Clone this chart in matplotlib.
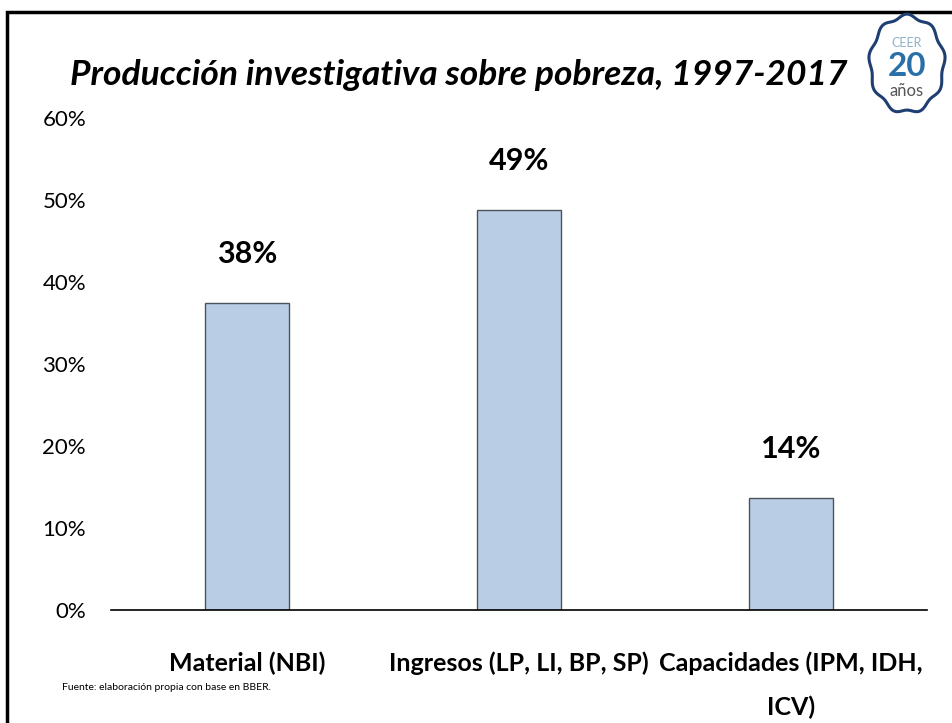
import matplotlib.pyplot as plt
import matplotlib.patches as mpatches
from matplotlib.ticker import PercentFormatter
import numpy as np

# datos
categorias = ['Material (NBI)', 'Ingresos (LP, LI, BP, SP)', 'Capacidades (IPM, IDH,\nICV)']
valores = [37.5, 48.8, 13.7]
etiquetas = ['38%', '49%', '14%']

plt.rcParams['font.family'] = ['Lato', 'DejaVu Sans']

fig = plt.figure(figsize=(9.52, 7.23), dpi=100)

# marco del slide
fig.add_artist(mpatches.Rectangle((7 / 952, -0.1), 1.2, (723 - 12) / 723 + 0.1,
                                  transform=fig.transFigure, fill=False,
                                  edgecolor='black', linewidth=2.5))

ax = fig.add_axes([111 / 952, (723 - 610) / 723, 816 / 952, 492 / 723])

x = np.arange(len(categorias))
ax.bar(x, valores, width=0.31, color='#B9CDE5', edgecolor='#4a5460', linewidth=1.0)

for xi, v, t in zip(x, valores, etiquetas):
    ax.text(xi, v + 4.8, t, ha='center', va='baseline', fontsize=22, fontweight='bold')

ax.set_xlim(-0.5, 2.5)
ax.set_ylim(0, 60)
ax.set_yticks(np.arange(0, 61, 10))
ax.yaxis.set_major_formatter(PercentFormatter(decimals=0))
ax.set_xticks(x)
ax.set_xticklabels(categorias, fontsize=18, fontweight='bold', linespacing=2.05)
ax.tick_params(axis='both', length=0)
ax.tick_params(axis='y', labelsize=16, pad=18)
ax.tick_params(axis='x', pad=30)

for s in ['top', 'right', 'left']:
    ax.spines[s].set_visible(False)
ax.spines['bottom'].set_linewidth(1.2)

fig.text(459 / 952, 1 - 75 / 723, 'Producción investigativa sobre pobreza, 1997-2017',
         ha='center', va='center', fontsize=25.5, fontweight='bold', style='italic')

fig.text(62 / 952, 1 - 688 / 723, 'Fuente: elaboración propia con base en BBER.',
         ha='left', va='center', fontsize=7.5)

# logo CEER 20 años (elipse ondulada)
cx, cy, rx, ry = 907, 723 - 64, 37, 48
th = np.linspace(0, 2 * np.pi, 400)
w = 1 + 0.04 * np.sin(9 * th)
fig.add_artist(plt.Polygon(np.c_[(cx + rx * w * np.cos(th)) / 952, (cy + ry * w * np.sin(th)) / 723],
                           closed=True, transform=fig.transFigure, facecolor='white',
                           edgecolor='#1f3f73', linewidth=2.2))
fig.text(cx / 952, (cy + 21) / 723, 'CEER', ha='center', va='center', fontsize=9, color='#8fb3c8')
fig.text(cx / 952, (cy - 3) / 723, '20', ha='center', va='center', fontsize=24,
         fontweight='bold', color='#2a6fa8')
fig.text(cx / 952, (cy - 27) / 723, 'años', ha='center', va='center', fontsize=12, color='#555555')

fig.savefig('out.png', dpi=100)
